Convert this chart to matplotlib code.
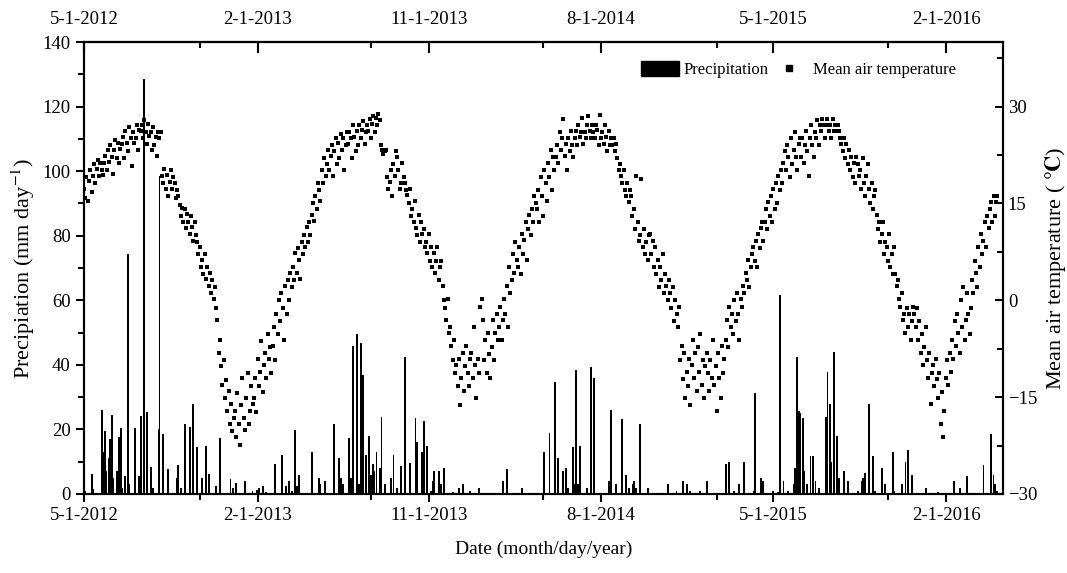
import numpy as np
import pandas as pd
import matplotlib
matplotlib.use('Agg')
import matplotlib.pyplot as plt
import matplotlib.dates as mdates
from matplotlib.patches import Patch
from matplotlib.lines import Line2D

plt.rcParams['font.family'] = ['Liberation Serif', 'DejaVu Serif']
plt.rcParams['mathtext.fontset'] = 'stix'

start = pd.Timestamp('2012-05-01')

# mean air temperature (degC), read every 2nd day from 5-1-2012
temp_y1 = [17.2, 15.8, 19.1, 15.3, 18.4, 20.2, 16.7, 19.3, 21.1, 18.2, 20.4, 21.8, 19.2, 21.3, 20.1,
           19.4, 21.2, 22.3, 20.1, 23.2, 21.4, 24.1, 22.2, 19.6, 23.3, 24.8, 22.1, 24.3, 21.2, 23.4,
           24.2, 25.3, 22.1, 26.2, 24.4, 23.1, 26.9, 25.2, 20.8, 26.1, 24.3, 25.2, 27.1, 23.2, 26.3,
           26.2, 27.2, 25.1, 27.9, 26.1, 24.2, 27.3, 25.4, 26.1, 23.2, 26.8, 24.1, 25.3, 22.3, 26.1,
           25.2, 26.1, 19.2, 18.1, 20.3, 17.2, 19.4, 16.1, 18.3, 20.2, 17.3, 19.1, 18.2, 15.8, 17.1,
           16.2, 14.8, 13.1, 14.3, 12.2, 14.1, 11.2, 13.3, 12.1, 10.2, 13.1, 11.3, 9.2, 12.1, 10.1,
           9.1, 7.2, 8.3, 5.1, 6.2, 4.1, 7.2, 3.3, 5.1, 2.2, 4.3, 1.2, 3.1, 0.2, 2.1,
           -1.2, -3.1, -8.2, -6.1, -10.2, -13.1, -9.2, -15.1, -12.3, -17.2, -14.1, -19.2, -16.1, -20.3, -18.2,
           -17.1, -21.2, -14.3, -19.1, -22.4, -16.2, -12.1, -18.3, -20.1, -15.2, -11.3, -19.2, -17.1, -13.2, -16.1,
           -15.2, -12.1, -17.3, -9.1, -13.2, -11.1, -6.3, -14.2, -10.1, -8.2, -12.1, -5.2, -9.1, -7.3, -11.2,
           -7.1, -4.2, -9.3, -2.1, -5.2, 0.1, -3.2, 1.1, -1.2, -6.1, 2.2, -2.1, 3.2, 0.1, 4.2,
           2.1, 5.2, 3.1, 7.3, 4.2, 8.1, 6.2, 3.3, 9.1, 7.2, 10.1, 8.2, 11.3, 9.1, 12.2]
temp_y2 = [10.1, 13.2, 15.1, 12.3, 16.2, 14.1, 18.2, 17.1, 15.3, 20.1, 18.2, 22.1, 19.3, 21.1, 23.2,
           20.1, 22.3, 24.1, 19.2, 23.1, 25.2, 21.1, 24.3, 22.1, 25.8, 23.2, 25.1, 20.2, 24.1, 26.1,
           24.2, 26.1, 25.2, 22.1, 27.1, 25.3, 23.1, 26.2, 24.1, 27.2, 25.1, 26.3, 27.8, 24.2, 26.1,
           27.1, 26.2, 28.1, 25.2, 27.3, 28.6, 26.1, 28.2, 27.1, 28.8, 27.9, 24.1, 23.2, 22.6, 23.1,
           23.2, 19.1, 17.2, 18.3, 20.1, 16.2, 21.1, 19.2, 23.1, 22.2, 20.1, 17.3, 18.1, 21.2, 19.1,
           18.2, 17.1, 16.3, 15.1, 17.2, 13.1, 14.2, 12.1, 15.3, 11.2, 10.1, 13.2, 9.1, 12.1, 10.2,
           11.1, 8.2, 9.1, 7.3, 10.2, 6.1, 8.2, 5.1, 7.3, 4.2, 6.1, 8.2, 3.1, 5.2, 6.1,
           2.2, 0.1, -1.2, -3.1, 0.2, -5.1, -4.2, -7.1, -9.3, -6.1, -11.2, -10.1, -13.2, -9.1, -16.2,
           -12.1, -8.2, -14.1, -10.2, -7.1, -11.3, -13.2, -9.1, -8.2, -12.1, -4.2, -10.1, -15.2, -9.1, -11.2,
           -1.1, 0.2, -3.1, -9.2, -6.1, -11.2, -5.1, -8.3, -12.1, -7.2, -3.1, -9.2, -5.1, -2.2, -6.1,
           -4.2, -1.1, -6.2, -3.1, 0.2, -2.1, 2.2, -4.1, 5.2, 1.1, 3.2, 7.1, 4.3, 9.1, 6.2,
           5.1, 8.2, 4.1, 10.2, 7.1, 9.3, 12.1, 6.2, 11.1, 13.2, 10.1, 14.2, 12.1, 16.2, 15.1]
temp_y3 = [14.2, 17.1, 12.2, 19.1, 16.2, 13.1, 20.2, 18.1, 15.3, 21.2, 19.1, 23.2, 17.1, 22.2, 20.1,
           22.2, 24.1, 21.2, 26.1, 23.2, 25.1, 28.1, 22.3, 24.2, 20.1, 25.2, 23.1, 26.2, 24.1, 22.2,
           25.1, 26.2, 24.1, 27.2, 25.3, 26.1, 28.2, 24.2, 26.1, 25.2, 27.1, 28.6, 26.2, 25.1, 27.2,
           26.1, 25.2, 27.1, 26.3, 24.1, 28.7, 25.2, 26.1, 24.2, 27.1, 25.3, 23.1, 26.2, 24.1, 25.2,
           24.1, 25.2, 23.1, 24.2, 22.1, 20.2, 21.1, 19.2, 18.1, 20.2, 17.1, 16.2, 18.1, 15.2, 17.1,
           16.2, 13.1, 14.2, 11.1, 19.2, 12.1, 9.2, 10.1, 18.8, 8.2, 11.1, 7.2, 9.1, 6.2, 10.1,
           10.2, 7.1, 9.2, 5.1, 8.2, 4.1, 6.2, 2.1, 5.2, 3.1, 7.1, 1.2, 4.1, 2.2, 0.1,
           3.2, 1.1, -1.2, 2.1, -3.2, 0.1, -2.1, -4.2, -1.1, -9.2, -7.1, -12.2, -8.1, -15.2, -11.1,
           -13.2, -9.1, -16.2, -10.1, -6.2, -12.1, -8.2, -14.1, -7.2, -11.1, -5.2, -13.1, -9.2, -15.1, -10.2,
           -8.1, -11.2, -14.1, -9.2, -12.1, -6.2, -13.1, -10.2, -17.1, -8.2, -12.1, -15.2, -7.1, -11.2, -9.1,
           -6.2, -3.1, -7.2, -1.1, -4.2, -2.1, -5.2, 0.1, -3.2, 1.1, -2.2, -6.1, 0.2, -1.1, 2.2,
           1.1, 4.2, 3.1, 6.2, 2.1, 5.2, 7.1, 8.2, 6.1, 9.2, 5.1, 10.2, 8.1, 11.2, 12.1]
temp_y4 = [9.2, 12.1, 14.2, 11.1, 15.2, 13.1, 16.2, 12.1, 17.2, 14.1, 18.2, 15.1, 19.2, 17.1, 20.2,
           18.1, 21.2, 23.1, 20.2, 24.1, 22.2, 19.1, 25.2, 21.1, 23.2, 26.1, 22.2, 20.1, 24.2, 25.1,
           22.2, 25.1, 21.2, 24.1, 26.2, 23.1, 19.2, 25.1, 27.2, 24.1, 22.2, 26.1, 25.2, 27.9, 24.1,
           27.1, 26.2, 28.1, 27.2, 25.1, 27.2, 28.1, 26.2, 27.1, 25.2, 28.1, 26.2, 27.1, 26.2, 27.1,
           26.2, 25.1, 24.2, 23.1, 25.2, 22.1, 24.2, 21.1, 23.2, 20.1, 22.2, 19.1, 21.2, 18.1, 22.2,
           21.1, 19.2, 20.1, 17.2, 22.1, 18.2, 16.1, 19.2, 21.1, 17.2, 15.1, 18.2, 14.1, 16.2, 17.1,
           13.2, 11.1, 12.2, 9.1, 10.2, 12.1, 7.2, 9.1, 8.2, 6.1, 10.2, 5.1, 7.2, 4.1, 8.2,
           4.1, 2.2, 3.1, 0.2, -1.1, 1.2, -3.1, -2.2, -5.1, -1.2, -4.1, -2.2, -6.1, -3.2, -1.1,
           -2.2, -4.1, -1.2, -6.1, -3.2, -8.1, -5.2, -10.1, -7.2, -4.1, -9.2, -12.1, -8.2, -16.1, -11.2,
           -10.1, -13.2, -9.1, -12.2, -15.1, -11.2, -19.1, -14.2, -21.1, -17.2, -12.1, -9.2, -13.1, -8.2, -11.1,
           -6.2, -9.1, -3.2, -7.1, -2.2, -5.1, -8.2, 0.1, -4.2, 2.1, -6.2, -3.1, 1.2, -2.1, -5.2,
           -1.2, 3.1, 1.2, 6.1, 4.2, 2.1, 8.2, 5.1, 10.2, 7.1, 9.2, 12.1, 8.2, 13.1, 11.2,
           14.1, 15.2, 12.1, 16.2, 13.1, 15.2, 16.1]

# precipitation events: day after 5-1-2012 and amount (mm/day)
rain_day = [2, 13, 15, 29, 30, 33, 35, 39, 42, 44, 47, 52, 56, 59, 61, 65, 70, 72, 81, 88,
            91, 95, 100, 107, 110, 119, 120, 125, 133, 148, 150, 154, 161, 168, 173, 179, 187, 194, 199, 210,
            216, 233, 237, 241, 256, 268, 275, 278, 284, 290, 304, 315, 321, 326, 331, 335, 338, 342, 363, 373,
            375, 383, 398, 406, 408, 412, 421, 424, 427, 434, 437, 441, 444, 448, 453, 456, 459, 461, 465, 471,
            473, 478, 488, 492, 497, 504, 510, 518, 527, 530, 537, 540, 545, 552, 555, 557, 564, 567, 572, 586,
            596, 602, 613, 628, 666, 672, 696, 732, 740, 749, 754, 762, 767, 770, 777, 779, 782, 786, 789, 799,
            806, 811, 835, 838, 846, 855, 861, 866, 872, 875, 878, 884, 897, 929, 942, 953, 958, 963, 979, 991,
            1020, 1025, 1033, 1041, 1049, 1065, 1067, 1076, 1080, 1096, 1103, 1107, 1112, 1119, 1128, 1131, 1133, 1137, 1139, 1143,
            1145, 1150, 1155, 1159, 1163, 1169, 1180, 1182, 1186, 1188, 1192, 1197, 1200, 1208, 1214, 1231, 1236, 1239, 1241, 1248,
            1255, 1258, 1269, 1274, 1286, 1288, 1301, 1306, 1310, 1317, 1338, 1357, 1383, 1392, 1404, 1430, 1442, 1446, 1449, 1452]
rain_mm = [1, 6.1, 1.5, 25.9, 13, 19.5, 7, 11, 17, 24.4, 5, 7, 17.5, 20.4, 2, 5.7, 74.3, 3, 20.4, 5.7,
           24.3, 128.4, 25.3, 8.3, 2, 20, 98.5, 18.5, 7.7, 5, 9, 2, 21.6, 20.6, 27.8, 14.6, 5, 15, 6.2, 2.4,
           17.4, 4.5, 2, 3.5, 4, 1, 1.2, 1.8, 2.4, 0.5, 9.3, 12, 2.4, 4, 1, 19.8, 2.4, 6, 13, 5,
           3, 4, 21.7, 11, 5, 3, 17.3, 5, 45.8, 49.5, 3, 46.9, 36.7, 12, 18, 6, 9.4, 7, 13, 8,
           23.8, 3, 5, 12, 2, 8.7, 42.5, 9.6, 23.6, 16, 13, 22.5, 15, 1, 4, 7, 7, 3, 8, 0.5,
           2, 3, 1, 2, 4, 7.7, 2, 13, 19, 34.8, 11, 7, 8, 2, 14.7, 3, 38.4, 3, 15, 2,
           39.4, 35.9, 4, 26, 3, 23.2, 6, 2, 3, 4, 2, 21.8, 2, 3, 1, 4, 3, 1, 1, 4,
           9.3, 10, 1, 3, 10, 1, 31.2, 5, 4, 1, 0.5, 61.5, 4, 1, 3, 8, 42.3, 25.7, 25, 23.6,
           7, 3, 11.8, 11.8, 4, 2, 23.8, 37.8, 28, 10, 43.9, 18, 5, 7, 4, 1, 4, 5, 6.5, 27.8,
           11.7, 1, 8, 3, 13, 1, 3, 10, 13.6, 6, 2, 0.5, 4, 2, 5.6, 9, 18.5, 6, 3, 1]

major_dates = ['2012-05-01', '2013-02-01', '2013-11-01', '2014-08-01', '2015-05-01', '2016-02-01']
major_labels = ['5-1-2012', '2-1-2013', '11-1-2013', '8-1-2014', '5-1-2015', '2-1-2016']
minor_dates = ['2012-11-01', '2013-08-01', '2014-05-01', '2015-02-01', '2015-11-01']

temp = temp_y1 + temp_y2 + temp_y3 + temp_y4
temp_dates = start + pd.to_timedelta(np.arange(len(temp)) * 2, unit='D')
rain_dates = start + pd.to_timedelta(rain_day, unit='D')

fig = plt.figure(figsize=(10.67, 5.73), dpi=100)
ax = fig.add_axes([0.0787, 0.1379, 0.8613, 0.7888])
ax2 = ax.twinx()

ax.bar(rain_dates, rain_mm, width=3, color='black', zorder=3)
ax2.plot(temp_dates, temp, 's', color='black', markersize=3.5, markeredgewidth=0)

ax.set_xlim(start, pd.Timestamp('2016-05-01'))
ax.set_ylim(0, 140)
ax2.set_ylim(-30, 40)

ax.set_yticks(np.arange(0, 141, 20))
ax.set_yticks(np.arange(10, 140, 20), minor=True)
ax2.set_yticks([-30, -15, 0, 15, 30])
ax2.set_yticks([-22.5, -7.5, 7.5, 22.5, 37.5], minor=True)

maj = [mdates.date2num(pd.Timestamp(d)) for d in major_dates]
mnr = [mdates.date2num(pd.Timestamp(d)) for d in minor_dates]
ax.set_xticks(maj)
ax.set_xticklabels(major_labels)
ax.set_xticks(mnr, minor=True)

top = ax.secondary_xaxis('top')
top.set_xticks(maj)
top.set_xticklabels(major_labels)
top.set_xticks(mnr, minor=True)
top.tick_params(which='major', direction='in', length=8, width=1.5, labelsize=13.5, pad=10)
top.tick_params(which='minor', direction='in', length=4.5, width=1.5)

ax.tick_params(which='major', direction='out', length=6, width=1.5, labelsize=13.5)
ax.tick_params(which='minor', direction='out', length=4, width=1.5)
ax2.tick_params(which='major', direction='in', length=6, width=1.5, labelsize=13.5)
ax2.tick_params(which='minor', direction='in', length=4, width=1.5)

for a in (ax, ax2):
    for s in a.spines.values():
        s.set_linewidth(1.5)
top.spines['top'].set_linewidth(1.5)

ax.set_ylabel('Precipiation (mm day$^{-1}$)', fontsize=16)
ax2.set_ylabel('Mean air temperature ( $\\mathbf{°C}$)', fontsize=16)
ax.set_xlabel('Date (month/day/year)', fontsize=14, labelpad=12)

handles = [Patch(facecolor='black', edgecolor='black'),
           Line2D([], [], marker='s', color='black', linestyle='none', markersize=5)]
ax.legend(handles, ['Precipitation', 'Mean air temperature'], loc='upper left',
          bbox_to_anchor=(0.606, 0.958), ncol=2, frameon=False, fontsize=12,
          borderaxespad=0, borderpad=0, handlelength=2.28, handleheight=1.0,
          columnspacing=0.05, handletextpad=0.3)

fig.savefig('out.png', dpi=100)
